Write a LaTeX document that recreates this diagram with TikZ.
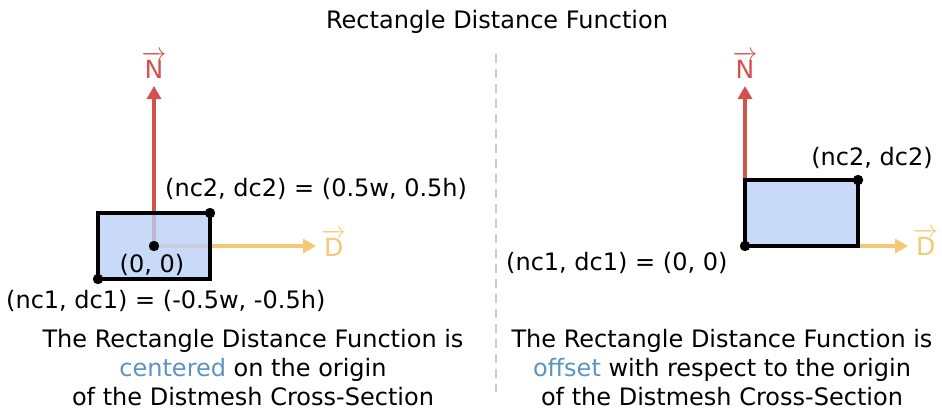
\documentclass[tikz,border=0pt]{standalone}
\usepackage{fontspec}
\setmainfont{DejaVu Sans}
\usetikzlibrary{arrows.meta}
\definecolor{nred}{HTML}{D2524F}
\definecolor{dyel}{HTML}{F5C878}
\definecolor{rfill}{HTML}{BCCFF6}
\definecolor{hblue}{HTML}{5B93C5}
\definecolor{divgray}{HTML}{CCCCCC}
\tikzset{
  txt/.style={inner sep=0pt, font=\fontsize{24}{29}\selectfont, text=black},
  basel/.style={anchor=base west},
  basec/.style={anchor=base},
  vlab/.style={inner sep=0pt, font=\fontsize{25}{30}\selectfont, anchor=base},
  narrow/.style={draw=nred, line width=3.2pt, -{Triangle[length=13pt,width=14pt]}},
  darrow/.style={draw=dyel, line width=3.2pt, -{Triangle[length=13pt,width=14pt]}},
  rectfill/.style={fill=rfill, fill opacity=0.8},
  rectline/.style={draw=black, line width=3.2pt},
  dot/.style={fill=black},
  divider/.style={draw=divgray, line width=2.2pt, dash pattern=on 9pt off 6pt},
}
\begin{document}
\begin{tikzpicture}[x=1pt,y=-1pt]
\useasboundingbox (0,0) rectangle (942,412);
% title
\node[txt,basec] (title) at (497,29) {Rectangle Distance Function};
% divider
\coordinate (divtop) at (496,54);
\coordinate (divbot) at (496,392);
\draw[divider] (divtop) -- (divbot);

% ---------- left diagram ----------
\coordinate (o1) at (154,246);
\coordinate (n1) at (154,86);
\coordinate (d1) at (316,246);
\coordinate (ll1) at (98,279);
\coordinate (ur1) at (210,213);
\draw[narrow] (o1) -- (n1);
\draw[darrow] (o1) -- (d1);
\fill[rectfill] (ll1) rectangle (ur1);
\draw[rectline] (ll1) rectangle (ur1);
\fill[dot] (o1) circle (5.2);
\fill[dot] (ll1) circle (5.2);
\fill[dot] (ur1) circle (5.2);
\node[vlab, text=nred] (nlab1) at (154,78) {$\overrightarrow{\mbox{N}}$};
\node[vlab, text=dyel, anchor=base west] (dlab1) at (321,256) {$\overrightarrow{\mbox{D}}$};
\node[txt,basel] (c2l) at (165,196) {(nc2, dc2) = (0.5w, 0.5h)};
\node[txt,basec] (orig1) at (152,272) {(0, 0)};
\node[txt,basel] (c1l) at (6,308) {(nc1, dc1) = (-0.5w, -0.5h)};

% ---------- right diagram ----------
\coordinate (o2) at (745,246);
\coordinate (n2) at (745,86);
\coordinate (d2) at (908,246);
\coordinate (ur2) at (858,180);
\draw[narrow] (o2) -- (n2);
\draw[darrow] (o2) -- (d2);
\fill[rectfill] (o2) rectangle (ur2);
\draw[rectline] (o2) rectangle (ur2);
\fill[dot] (o2) circle (5.2);
\fill[dot] (ur2) circle (5.2);
\node[vlab, text=nred] (nlab2) at (745,78) {$\overrightarrow{\mbox{N}}$};
\node[vlab, text=dyel, anchor=base west] (dlab2) at (913,255) {$\overrightarrow{\mbox{D}}$};
\node[txt,basec] (c2r) at (872,165) {(nc2, dc2)};
\node[txt,basel] (c1r) at (506,270) {(nc1, dc1) = (0, 0)};

% ---------- captions ----------
\node[txt,basec] (capl1) at (253,347) {The Rectangle Distance Function is};
\node[txt,basec] (capl2) at (253,376) {\textcolor{hblue}{centered} on the origin};
\node[txt,basec] (capl3) at (253,405) {of the Distmesh Cross-Section};
\node[txt,basec] (capr1) at (722,347) {The Rectangle Distance Function is};
\node[txt,basec] (capr2) at (722,376) {\textcolor{hblue}{offset} with respect to the origin};
\node[txt,basec] (capr3) at (722,405) {of the Distmesh Cross-Section};
\end{tikzpicture}
\end{document}
